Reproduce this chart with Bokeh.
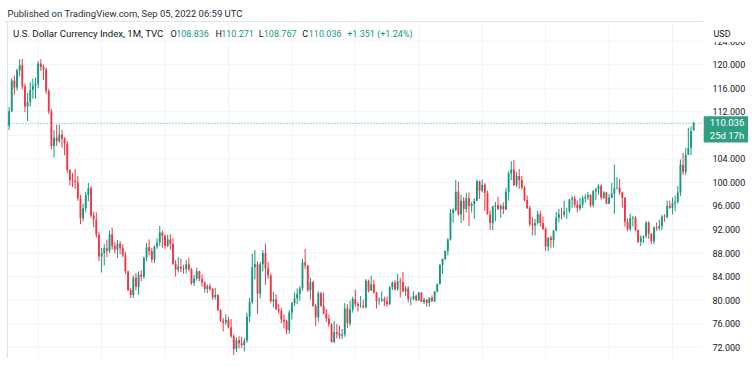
import pandas as pd
from bokeh.plotting import figure
from bokeh.models import Range1d, Label, ColumnDataSource
from bokeh.core.properties import value
from bokeh.embed import file_html
from bokeh.resources import INLINE

# ---------------- data: monthly DXY candles, Feb 2001 .. Sep 2022 ----------------
first_month = "2001-02"

o = [109.6, 112.1, 117.3, 116.1, 119.0, 119.9, 116.3, 112.9, 113.6, 115.7, 116.4,
     116.8, 120.2, 119.6, 119.2, 115.5, 112.1, 106.2, 107.6, 107.0, 108.1, 107.4, 106.6,
     102.1, 100.4, 100.2, 100.0, 97.3, 93.9, 95.6, 97.8, 99.0, 94.4, 93.7, 91.1,
     87.4, 88.0, 88.8, 88.4, 91.2, 89.2, 88.6, 89.6, 88.9, 87.6, 84.9, 81.7,
     80.9, 83.8, 82.3, 84.3, 84.0, 87.2, 89.0, 88.3, 86.9, 89.1, 89.8, 91.5,
     90.9, 89.2, 90.3, 89.6, 86.2, 85.2, 85.7, 85.4, 85.3, 86.1, 85.2, 82.9,
     83.7, 84.9, 83.6, 83.0, 81.9, 82.4, 81.9, 80.5, 80.9, 78.3, 76.5, 76.2,
     76.7, 75.4, 73.9, 71.7, 73.2, 72.7, 72.4, 73.1, 77.2, 79.7, 85.6, 86.1,
     81.1, 86.1, 88.0, 85.4, 84.2, 79.8, 80.1, 78.5, 78.2, 76.7, 76.4, 74.9,
     77.9, 79.5, 80.3, 81.1, 82.0, 86.4, 85.9, 81.7, 83.1, 79.0, 77.1, 81.2,
     79.0, 77.7, 76.9, 75.9, 72.9, 74.6, 74.3, 74.0, 74.2, 78.6, 76.1, 78.4,
     80.2, 79.3, 79.0, 79.0, 78.8, 83.3, 81.6, 82.7, 81.3, 79.9, 80.0, 80.2,
     79.8, 79.3, 82.2, 83.0, 81.9, 83.2, 83.1, 81.5, 82.0, 80.2, 80.2, 80.7,
     80.0, 81.3, 79.7, 80.1, 79.5, 80.4, 79.8, 81.5, 82.8, 86.0, 87.0, 88.4,
     90.3, 94.8, 95.3, 98.4, 94.6, 96.9, 95.5, 97.3, 96.0, 96.3, 96.9, 100.2,
     98.6, 99.6, 98.2, 94.6, 93.1, 95.9, 96.1, 95.5, 96.0, 95.4, 98.4, 101.5,
     102.2, 99.5, 101.1, 100.4, 99.1, 97.0, 95.6, 92.9, 92.7, 93.1, 94.6, 93.1,
     92.1, 89.1, 90.6, 90.2, 91.8, 94.0, 94.6, 94.5, 95.1, 95.1, 97.1, 97.3,
     96.2, 95.6, 96.2, 97.3, 97.5, 97.8, 96.1, 98.5, 98.9, 99.4, 97.4, 98.3,
     96.4, 97.4, 98.1, 99.0, 99.1, 98.3, 97.4, 93.3, 92.1, 93.9, 94.0, 91.9,
     89.9, 90.6, 90.9, 93.2, 91.3, 90.0, 92.4, 92.2, 92.6, 94.2, 94.1, 96.0,
     95.7, 96.5, 96.7, 98.3, 103.0, 101.8, 104.7, 105.9, 108.836]

h = [112.8, 117.7, 118.1, 119.3, 120.9, 121.0, 116.8, 115.2, 117.0, 117.6, 117.8,
     120.6, 120.9, 120.0, 119.5, 115.9, 112.5, 108.9, 109.8, 109.8, 108.9, 107.7, 107.0,
     102.3, 101.6, 102.3, 101.1, 97.9, 96.4, 98.4, 99.9, 99.4, 95.0, 94.9, 91.6,
     88.9, 89.5, 90.3, 91.8, 92.3, 89.9, 90.2, 90.0, 89.5, 88.2, 85.0, 82.0,
     84.2, 84.6, 84.9, 85.1, 87.4, 89.7, 90.3, 88.9, 89.3, 90.5, 92.6, 91.8,
     91.2, 91.1, 91.2, 90.5, 86.8, 87.3, 87.1, 86.0, 86.8, 87.2, 85.5, 84.3,
     85.5, 85.0, 84.4, 83.2, 82.7, 82.8, 82.1, 82.1, 81.0, 78.5, 77.0, 77.6,
     77.2, 76.8, 74.2, 73.7, 73.9, 73.8, 73.6, 77.9, 80.4, 87.9, 88.5, 86.6,
     86.5, 88.5, 89.6, 86.5, 84.5, 81.4, 81.0, 79.3, 78.7, 77.6, 76.7, 78.3,
     79.7, 81.3, 82.0, 82.4, 87.0, 88.7, 86.0, 83.8, 83.3, 79.4, 81.5, 81.4,
     81.3, 78.5, 77.6, 76.1, 76.5, 76.0, 75.7, 75.1, 79.5, 79.3, 79.9, 80.6,
     81.8, 79.7, 80.7, 80.1, 83.6, 83.5, 84.1, 83.4, 81.4, 80.5, 81.5, 80.6,
     80.6, 82.4, 83.2, 83.4, 84.5, 83.8, 84.8, 82.4, 82.4, 80.6, 81.5, 81.0,
     81.4, 81.4, 80.4, 80.2, 80.5, 80.8, 81.5, 82.8, 86.1, 87.1, 88.4, 90.5,
     95.5, 95.6, 100.4, 100.1, 97.9, 97.5, 98.2, 98.3, 96.7, 97.3, 100.5, 100.3,
     100.5, 99.9, 98.6, 95.2, 96.0, 96.7, 97.6, 96.3, 96.6, 99.1, 101.9, 103.6,
     103.8, 101.8, 102.3, 101.1, 99.4, 97.8, 96.0, 94.1, 93.8, 95.2, 95.1, 94.2,
     92.4, 90.7, 90.9, 91.9, 95.0, 95.5, 95.7, 96.9, 95.7, 97.2, 97.7, 97.7,
     96.9, 97.4, 97.7, 98.0, 98.4, 98.0, 98.7, 99.1, 99.7, 99.7, 98.5, 98.4,
     98.0, 99.9, 103.0, 100.9, 100.6, 98.4, 97.5, 93.9, 94.7, 94.3, 94.3, 92.0,
     91.0, 91.0, 93.4, 93.4, 91.4, 92.5, 93.2, 93.7, 94.5, 94.6, 96.9, 96.9,
     97.4, 97.8, 99.4, 103.9, 105.0, 105.8, 109.3, 109.5, 110.271]

l = [108.9, 111.9, 114.9, 115.6, 118.0, 115.8, 111.9, 110.4, 112.9, 114.2, 114.2,
     116.0, 118.9, 117.4, 115.0, 111.6, 105.6, 104.2, 106.2, 106.7, 105.9, 104.6, 101.6,
     99.5, 99.2, 98.9, 96.9, 92.9, 93.4, 94.9, 96.8, 94.0, 92.4, 90.6, 86.6,
     84.7, 85.9, 87.3, 88.0, 88.6, 87.9, 87.2, 87.8, 87.3, 84.4, 81.5, 80.4,
     80.4, 81.7, 80.9, 83.2, 83.6, 86.6, 87.6, 86.4, 86.3, 88.7, 89.2, 88.9,
     88.7, 89.0, 88.6, 86.0, 84.0, 84.7, 84.8, 84.5, 84.5, 84.9, 82.6, 82.4,
     83.3, 83.2, 82.3, 81.3, 81.2, 81.6, 80.1, 80.1, 78.2, 76.3, 74.7, 75.8,
     75.2, 73.6, 70.7, 71.2, 71.8, 71.9, 71.3, 72.8, 76.3, 79.3, 83.5, 77.7,
     80.3, 84.9, 82.6, 83.6, 79.6, 78.8, 78.3, 77.7, 76.1, 75.2, 74.2, 74.3,
     76.7, 79.0, 79.3, 79.9, 81.6, 85.3, 81.4, 80.1, 78.9, 75.6, 76.4, 78.9,
     77.6, 76.3, 75.5, 72.8, 72.7, 73.5, 73.4, 73.4, 73.8, 75.3, 75.6, 77.9,
     78.9, 78.1, 78.7, 78.6, 78.6, 81.3, 81.6, 81.1, 78.6, 79.2, 79.7, 79.0,
     78.9, 79.2, 81.7, 81.6, 81.6, 80.5, 81.4, 80.8, 79.6, 79.1, 80.0, 79.8,
     79.9, 79.7, 79.3, 78.9, 78.9, 79.8, 79.7, 81.3, 82.6, 84.5, 86.8, 87.6,
     90.1, 93.2, 95.1, 94.4, 93.1, 93.5, 94.9, 92.6, 94.9, 93.8, 96.8, 97.2,
     98.3, 95.2, 94.5, 91.9, 91.9, 93.4, 95.3, 94.0, 94.6, 95.3, 96.9, 100.4,
     99.4, 99.2, 98.9, 98.8, 96.8, 95.5, 92.5, 91.0, 91.0, 92.8, 92.5, 91.9,
     88.4, 88.3, 88.9, 89.0, 91.7, 93.2, 93.7, 94.1, 93.8, 94.8, 95.7, 95.8,
     94.9, 95.2, 95.7, 96.6, 97.0, 95.8, 95.8, 97.0, 97.9, 97.1, 97.2, 96.3,
     96.3, 97.3, 94.6, 98.8, 97.9, 95.7, 92.5, 91.7, 91.7, 92.5, 91.7, 89.7,
     89.2, 89.7, 90.5, 90.4, 89.5, 89.5, 91.8, 91.8, 91.9, 93.3, 93.9, 95.5,
     94.6, 95.1, 96.4, 97.7, 101.3, 101.3, 104.7, 104.6, 108.767]

c = [112.1, 117.3, 116.1, 119.0, 119.9, 116.3, 112.9, 113.6, 115.7, 116.4, 116.8,
     120.2, 119.6, 119.2, 115.5, 112.1, 106.2, 107.6, 107.0, 108.1, 107.4, 106.6, 102.1,
     100.4, 100.2, 100.0, 97.3, 93.9, 95.6, 97.8, 99.0, 94.4, 93.7, 91.1, 87.4,
     88.0, 88.8, 88.4, 91.2, 89.2, 88.6, 89.6, 88.9, 87.6, 84.9, 81.7, 80.9,
     83.8, 82.3, 84.3, 84.0, 87.2, 89.0, 88.3, 86.9, 89.1, 89.8, 91.5, 90.9,
     89.2, 90.3, 89.6, 86.2, 85.2, 85.7, 85.4, 85.3, 86.1, 85.2, 82.9, 83.7,
     84.9, 83.6, 83.0, 81.9, 82.4, 81.9, 80.5, 80.9, 78.3, 76.5, 76.2, 76.7,
     75.4, 73.9, 71.7, 73.2, 72.7, 72.4, 73.1, 77.2, 79.7, 85.6, 86.1, 81.1,
     86.1, 88.0, 85.4, 84.2, 79.8, 80.1, 78.5, 78.2, 76.7, 76.4, 74.9, 77.9,
     79.5, 80.3, 81.1, 82.0, 86.4, 85.9, 81.7, 83.1, 79.0, 77.1, 81.2, 79.0,
     77.7, 76.9, 75.9, 72.9, 74.6, 74.3, 74.0, 74.2, 78.6, 76.1, 78.4, 80.2,
     79.3, 79.0, 79.0, 78.8, 83.3, 81.6, 82.7, 81.3, 79.9, 80.0, 80.2, 79.8,
     79.3, 82.2, 83.0, 81.9, 83.2, 83.1, 81.5, 82.0, 80.2, 80.2, 80.7, 80.0,
     81.3, 79.7, 80.1, 79.5, 80.4, 79.8, 81.5, 82.8, 86.0, 87.0, 88.4, 90.3,
     94.8, 95.3, 98.4, 94.6, 96.9, 95.5, 97.3, 96.0, 96.3, 96.9, 100.2, 98.6,
     99.6, 98.2, 94.6, 93.1, 95.9, 96.1, 95.5, 96.0, 95.4, 98.4, 101.5, 102.2,
     99.5, 101.1, 100.4, 99.1, 97.0, 95.6, 92.9, 92.7, 93.1, 94.6, 93.1, 92.1,
     89.1, 90.6, 90.2, 91.8, 94.0, 94.6, 94.5, 95.1, 95.1, 97.1, 97.3, 96.2,
     95.6, 96.2, 97.3, 97.5, 97.8, 96.1, 98.5, 98.9, 99.4, 97.4, 98.3, 96.4,
     97.4, 98.1, 99.0, 99.1, 98.3, 97.4, 93.3, 92.1, 93.9, 94.0, 91.9, 89.9,
     90.6, 90.9, 93.2, 91.3, 90.0, 92.4, 92.2, 92.6, 94.2, 94.1, 96.0, 95.7,
     96.5, 96.7, 98.3, 103.0, 101.8, 104.7, 105.9, 108.685, 110.036]

y_tick_labels = [72, 76, 80, 84, 88, 92, 96, 100, 104, 112, 116, 120, 124]
y_grid_levels = [72, 76, 80, 84, 88, 92, 96, 100, 104, 108, 112, 116, 120, 124]
symbol_title = "U.S. Dollar Currency Index, 1M, TVC"
published = "Published on TradingView.com, Sep 05, 2022 06:59 UTC"
countdown = "25d 17h"
currency = "USD"

# ---------------- layout calibration (pixels of the page) ----------------
W, H = 748, 358
PX_X0, PX_DX = 8.6, 2.643      # page x of the first bar, px per bar
PX_Y100, PX_DY = 181.9, 5.89   # page y of level 100, px per index point
PANE_L, PANE_R, PANE_T = 7, 703, 21


def xv(px):
    return (px - PX_X0) / PX_DX


def yv(py):
    return 100 - (py - PX_Y100) / PX_DY


FONT = "Roboto"
TXT = "#131722"
GRID = "#f0f3fa"
BORDER = "#e0e3eb"
UP, DOWN = "#14997e", "#f23645"
BADGE = "#2f9e84"

# ---------------- derived ----------------
n = len(c)
months = pd.period_range(first_month, periods=n, freq="M")
idx = list(range(n))
colors = [UP if ci >= oi else DOWN for oi, ci in zip(o, c)]
src = ColumnDataSource(dict(
    x=idx, h=h, l=l,
    top=[max(a, b) for a, b in zip(o, c)],
    bot=[min(a, b) for a, b in zip(o, c)],
    color=colors))
x_grid = [i for i, m in enumerate(months) if m.month == 1 and m.year % 2 == 0]

p = figure(width=W, height=H, output_backend="svg", toolbar_location=None,
           x_range=Range1d(xv(0), xv(W)), y_range=Range1d(yv(H), yv(0)),
           x_axis_location=None, y_axis_location=None, min_border=0)
p.outline_line_color = None
p.grid.visible = False
p.background_fill_color = "white"
p.border_fill_color = "white"

top_v, bot_v = yv(PANE_T), yv(H + 10)
left_v, right_v = xv(PANE_L), xv(PANE_R)

# grid
p.segment(x0=left_v, x1=right_v, y0=y_grid_levels, y1=y_grid_levels,
          line_color=GRID, line_width=1)
p.segment(x0=x_grid, x1=x_grid, y0=bot_v, y1=top_v, line_color=GRID, line_width=1)
# pane borders (top and left)
p.segment(x0=[xv(4)], x1=[right_v], y0=[top_v], y1=[top_v], line_color=BORDER)
p.segment(x0=[left_v], x1=[left_v], y0=[bot_v], y1=[top_v], line_color=BORDER)

# candles
p.segment(x0="x", y0="l", x1="x", y1="h", source=src, line_color="color", line_width=1)
p.vbar(x="x", width=0.7, top="top", bottom="bot", source=src,
       fill_color="color", line_color=None)

# last price line
p.segment(x0=[left_v], x1=[right_v], y0=[c[-1]], y1=[c[-1]], line_color=UP,
          line_dash="1 2", line_width=1, line_alpha=0.8)

# price scale labels
p.text(x=xv(712), y=y_tick_labels, text=[f"{t:.3f}" for t in y_tick_labels],
       text_font=value(FONT), text_font_size=value("9px"), text_color=TXT,
       text_baseline="middle", text_align="left")
# header strip of the price scale (hides the top of the 124 label)
p.quad(left=[right_v], right=[xv(W + 5)], top=[yv(-5)], bottom=[yv(41.5)],
       fill_color="white", line_color=None)


def txt(text, sx, sy, color=TXT, size="9px", **kw):
    lab = Label(x=sx, y=H - sy, x_units="screen", y_units="screen", text=text,
                text_font=FONT, text_font_size=size, text_color=color,
                text_baseline="middle", text_align=kw.pop("align", "left"), **kw)
    p.add_layout(lab)
    return lab


txt(published, 7, 13, color="#2a2e39", size="9.5px")
txt(symbol_title, 12.5, 33, size="9.6px")
chg = c[-1] - c[-2]
pct = chg / c[-2] * 100
parts = [("O", 170), (f"{o[-1]:.3f}", 175.7), ("H", 215), (f"{h[-1]:.3f}", 220.7),
         ("L", 258.3), (f"{l[-1]:.3f}", 263.3), ("C", 301.7), (f"{c[-1]:.3f}", 308.3),
         (f"{chg:+.3f} ({pct:+.2f}%)", 346.7)]
for k, (t, sx) in enumerate(parts):
    is_letter = (k % 2 == 0) and k < 8
    txt(t, sx, 33, color=TXT if is_letter else UP)
txt(currency, 713, 33)

# last price badge on the price scale
p.add_layout(Label(x=xv(726.5), y=c[-1], y_offset=-6,
                   text=f"{c[-1]:.3f}\n{countdown}", text_font=FONT,
                   text_font_size="9.5px", text_color="white", text_align="center",
                   text_baseline="middle", background_fill_color=BADGE,
                   padding=dict(left=6, right=6, top=1, bottom=1), level="overlay"))

open("out.html", "w").write(file_html(p, INLINE))
